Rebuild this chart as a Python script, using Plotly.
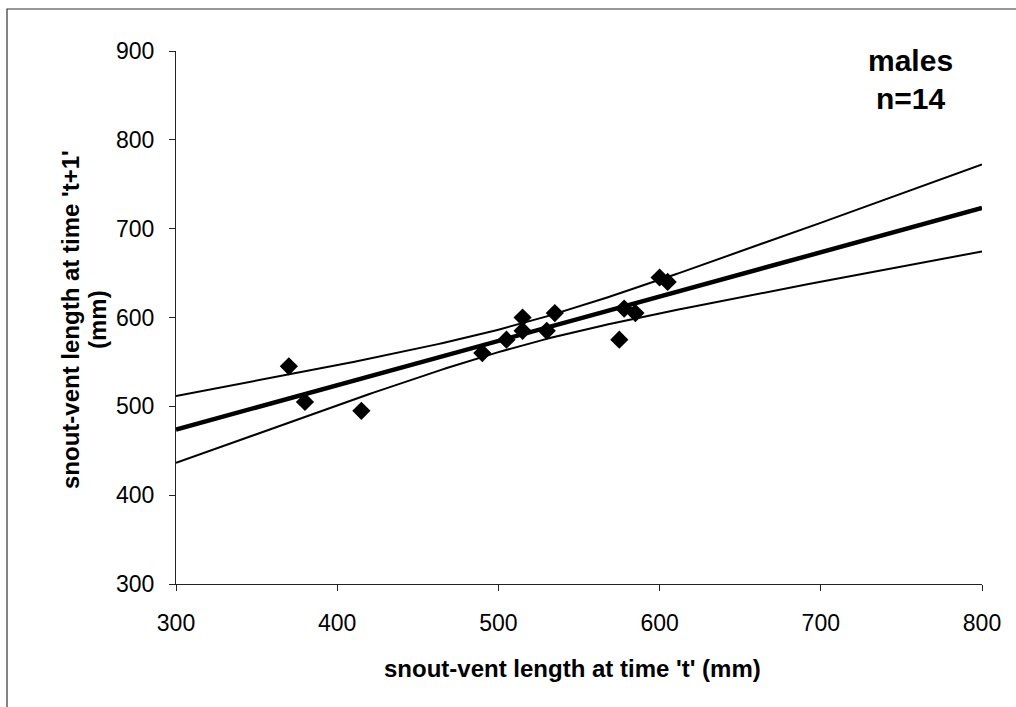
import numpy as np
import plotly.graph_objects as go

# data
svl_t = [370, 380, 415, 490, 505, 515, 515, 530, 535, 575, 578, 585, 600, 605]
svl_t1 = [545, 505, 495, 560, 575, 600, 585, 585, 605, 575, 610, 605, 645, 640]
x_ticks = [300, 400, 500, 600, 700, 800]
y_ticks = [300, 400, 500, 600, 700, 800, 900]
t_crit = 2.179  # 95% two-sided, df = 12

# regression + 95% confidence band of the mean, computed from the data
x = np.array(svl_t, float)
y = np.array(svl_t1, float)
n = len(x)
slope, intercept = np.polyfit(x, y, 1)
resid = y - (intercept + slope * x)
s = np.sqrt(np.sum(resid ** 2) / (n - 2))
sxx = np.sum((x - x.mean()) ** 2)
xs = np.linspace(300, 800, 201)
fit = intercept + slope * xs
half = t_crit * s * np.sqrt(1 / n + (xs - x.mean()) ** 2 / sxx)

FONT = "Liberation Sans, Arial, sans-serif"
fig = go.Figure()
fig.add_trace(go.Scatter(x=xs, y=fit + half, mode="lines",
                         line=dict(color="black", width=2), hoverinfo="skip"))
fig.add_trace(go.Scatter(x=xs, y=fit - half, mode="lines",
                         line=dict(color="black", width=2), hoverinfo="skip"))
fig.add_trace(go.Scatter(x=xs, y=fit, mode="lines",
                         line=dict(color="black", width=4.5), hoverinfo="skip"))
fig.add_trace(go.Scatter(x=svl_t, y=svl_t1, mode="markers",
                         marker=dict(symbol="diamond", size=14, color="black")))

L, R, T, B = 176, 34, 51, 123
W, H = 1016, 707
pw, ph = W - L - R, H - T - B

def px(xp):
    return (xp - L) / pw

def py(yp):
    return (H - B - yp) / ph

axis_common = dict(showgrid=False, zeroline=False, showline=True, linecolor="#222",
                   linewidth=1.3, ticks="outside", ticklen=6, tickcolor="#222",
                   tickfont=dict(family=FONT, size=23, color="black"), mirror=False)

def ann(text, xp, yp, size, angle=0):
    return dict(text=text, xref="paper", yref="paper", x=px(xp), y=py(yp),
                xanchor="center", yanchor="middle", showarrow=False, textangle=angle,
                font=dict(family=FONT, size=size, color="black"))

fig.update_layout(
    width=W, height=H, showlegend=False,
    paper_bgcolor="white", plot_bgcolor="white",
    margin=dict(l=L, r=R, t=T, b=B),
    xaxis=dict(range=[300, 800], tickvals=x_ticks, ticklabelstandoff=12, **axis_common),
    yaxis=dict(range=[300, 900], tickvals=y_ticks, ticklabelstandoff=10, **axis_common),
    annotations=[
        ann("<b>snout-vent length at time 't' (mm)</b>", 572, 668, 24),
        ann("<b>snout-vent length at time 't+1'</b>", 70, 320, 24, -90),
        ann("<b>(mm)</b>", 97, 320, 24, -90),
        ann("<b>males</b>", 910, 60, 30),
        ann("<b>n=14</b>", 911, 98, 30),
    ],
    shapes=[
        dict(type="rect", xref="paper", yref="paper",
             x0=px(7), x1=px(1030), y0=py(720), y1=py(9),
             line=dict(color="#333", width=1.2), fillcolor="rgba(0,0,0,0)", layer="below"),
    ],
)

fig.write_html("out.html")
